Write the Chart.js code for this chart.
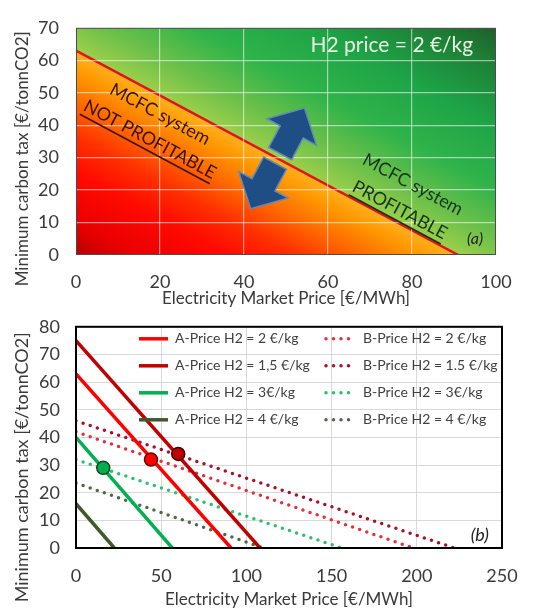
<!DOCTYPE html>
<html>
<head>
<meta charset="utf-8">
<script src="https://cdn.jsdelivr.net/npm/chart.js@4.4.0/dist/chart.umd.min.js"></script>
<style>
body { margin: 0; background: #fff; width: 535px; height: 612px; overflow: hidden; position: relative; }
#chartA { position: absolute; left: 0; top: 0; }
#chartB { position: absolute; left: 0; top: 300px; }
</style>
</head>
<body>
<canvas id="chartA" width="535" height="312"></canvas>
<canvas id="chartB" width="535" height="312"></canvas>
<script>
// panel (a) - break even line for H2 = 2 €/kg
const breakEvenX = [0, 91];
const breakEvenY = [63, 0];
const xTicksA = [0, 20, 40, 60, 80, 100];
const yTicksA = [0, 10, 20, 30, 40, 50, 60, 70];
const arrowAt = 48;

// panel (b) - A and B cases, straight lines from y-intercept to x-intercept
const labelsA = ['A-Price H2 = 2 €/kg', 'A-Price H2 = 1,5 €/kg', 'A-Price H2 = 3€/kg', 'A-Price H2 = 4 €/kg'];
const labelsB = ['B-Price H2 = 2 €/kg', 'B-Price H2 = 1.5 €/kg', 'B-Price H2 = 3€/kg', 'B-Price H2 = 4 €/kg'];
const taxAtZeroA = [63, 75, 40, 16];
const priceAtZeroA = [91, 108, 56.5, 22.5];
const taxAtZeroB = [42, 46, 32, 23.5];
const priceAtZeroB = [198, 222, 156, 110];
const crossX = [44, 60, 16];
const crossY = [32, 34, 29];
const xTicksB = [0, 50, 100, 150, 200, 250];
const yTicksB = [0, 10, 20, 30, 40, 50, 60, 70, 80];

const colorsA = ['#ff0000', '#c00000', '#00b050', '#3e5a2a'];
const colorsB = ['#e3303c', '#a8102a', '#2cbf72', '#4f6848'];
const crossFill = ['#ff0000', '#c00000', '#00b050'];
const crossEdge = ['#6e0000', '#4a0000', '#1d4223'];

Chart.defaults.font.family = 'Lato, "Open Sans", sans-serif';
Chart.defaults.color = '#3a3a3a';

function lineY(v) {
  return breakEvenY[0] + (breakEvenY[1] - breakEvenY[0]) * (v - breakEvenX[0]) / (breakEvenX[1] - breakEvenX[0]);
}

// gradient running perpendicular to the break even line, from line (0) to a corner (1)
function bandGradient(chart, corner, stops) {
  const { ctx, scales: { x, y } } = chart;
  const p0 = [x.getPixelForValue(breakEvenX[0]), y.getPixelForValue(breakEvenY[0])];
  const p1 = [x.getPixelForValue(breakEvenX[1]), y.getPixelForValue(breakEvenY[1])];
  const dx = p1[0] - p0[0], dy = p1[1] - p0[1];
  const t = ((corner[0] - p0[0]) * dx + (corner[1] - p0[1]) * dy) / (dx * dx + dy * dy);
  const g = ctx.createLinearGradient(p0[0] + t * dx, p0[1] + t * dy, corner[0], corner[1]);
  stops.forEach(s => g.addColorStop(s[0], s[1]));
  return g;
}
const redStops = [[0, '#ffb020'], [0.1, '#ff9800'], [0.25, '#ff6a00'], [0.42, '#ff3000'], [0.6, '#ff0a00'], [0.85, '#e80000'], [1, '#b50000']];
const greenStops = [[0, '#9ccf4a'], [0.15, '#6cc04a'], [0.35, '#2fb34a'], [0.6, '#1ea447'], [0.85, '#1d7f36'], [1, '#1f5f2a']];

const linePts = breakEvenX.map((v, i) => ({ x: v, y: breakEvenY[i] }));

function drawArrow(ctx, dir) {
  // dir -1 = up/right side, +1 = down/left side (local y axis)
  ctx.beginPath();
  ctx.moveTo(-13, dir * 5.5);
  ctx.lineTo(-13, dir * 30);
  ctx.lineTo(-28, dir * 30);
  ctx.lineTo(0, dir * 57);
  ctx.lineTo(28, dir * 30);
  ctx.lineTo(13, dir * 30);
  ctx.lineTo(13, dir * 5.5);
  ctx.closePath();
  ctx.fill();
  ctx.stroke();
}

function rotText(ctx, text, px, py, ang, underline) {
  ctx.save();
  ctx.translate(px, py);
  ctx.rotate(ang);
  ctx.fillText(text, 0, 0);
  if (underline) {
    const w = ctx.measureText(text).width;
    ctx.fillRect(-w / 2, 10, w, 1.6);
  }
  ctx.restore();
}

const decorA = {
  id: 'decorA',
  afterDraw(chart) {
    const { ctx, chartArea: ca, scales: { x, y } } = chart;
    ctx.save();
    ctx.strokeStyle = '#4d4d4d';
    ctx.lineWidth = 1;
    ctx.strokeRect(ca.left + 0.5, ca.top + 0.5, ca.width - 1, ca.height - 1);

    const p0 = [x.getPixelForValue(breakEvenX[0]), y.getPixelForValue(breakEvenY[0])];
    const p1 = [x.getPixelForValue(breakEvenX[1]), y.getPixelForValue(breakEvenY[1])];
    const ang = Math.atan2(p1[1] - p0[1], p1[0] - p0[0]);

    // double arrow across the line
    ctx.save();
    ctx.translate(x.getPixelForValue(arrowAt), y.getPixelForValue(lineY(arrowAt)));
    ctx.rotate(ang);
    ctx.fillStyle = '#1f4e85';
    ctx.strokeStyle = '#6088b8';
    ctx.lineWidth = 1.5;
    drawArrow(ctx, -1);
    drawArrow(ctx, 1);
    ctx.restore();

    ctx.textAlign = 'center';
    ctx.textBaseline = 'middle';
    ctx.font = '18px Lato';
    ctx.fillStyle = '#3b1208';
    rotText(ctx, 'MCFC system', x.getPixelForValue(20), y.getPixelForValue(43.4), ang, false);
    rotText(ctx, 'NOT PROFITABLE', x.getPixelForValue(17.6), y.getPixelForValue(35.6), ang, true);
    ctx.fillStyle = '#17351a';
    rotText(ctx, 'MCFC system', x.getPixelForValue(80.2), y.getPixelForValue(21.7), ang, false);
    rotText(ctx, 'PROFITABLE', x.getPixelForValue(77.1), y.getPixelForValue(13.9), ang, true);

    ctx.fillStyle = '#e8f4e0';
    ctx.font = '21px Lato';
    ctx.fillText('H2 price = 2 €/kg', x.getPixelForValue(75.2), y.getPixelForValue(64.5));
    ctx.fillStyle = '#222';
    ctx.font = 'italic 16px Lato';
    ctx.fillText('(a)', x.getPixelForValue(95), y.getPixelForValue(4.9));
    ctx.restore();
  }
};

new Chart(document.getElementById('chartA'), {
  type: 'line',
  data: {
    datasets: [
      { data: linePts, borderColor: '#e3111b', borderWidth: 2.5, pointRadius: 0, fill: false, order: -1 },
      {
        data: linePts, borderColor: 'rgba(0,0,0,0)', pointRadius: 0, fill: 'origin',
        backgroundColor: c => {
          const ch = c.chart;
          if (!ch.chartArea) return '#ff3000';
          return bandGradient(ch, [ch.chartArea.left, ch.chartArea.bottom], redStops);
        }
      },
      {
        data: linePts.concat([{ x: 100, y: 0 }]), borderColor: 'rgba(0,0,0,0)', pointRadius: 0, fill: 'end',
        backgroundColor: c => {
          const ch = c.chart;
          if (!ch.chartArea) return '#20a040';
          return bandGradient(ch, [ch.chartArea.right, ch.chartArea.top], greenStops);
        }
      }
    ]
  },
  options: {
    responsive: false,
    animation: false,
    layout: { padding: { top: 13, right: 39, left: 0, bottom: 0 } },
    plugins: { legend: { display: false }, tooltip: { enabled: false } },
    scales: {
      x: {
        type: 'linear', min: 0, max: 100,
        afterBuildTicks: s => { s.ticks = xTicksA.map(v => ({ value: v })); },
        afterFit: s => { s.height = 57; },
        grid: { color: 'rgba(255,255,255,0.55)', lineWidth: 1.2, z: 1, drawTicks: false },
        border: { display: false },
        ticks: { padding: 16, font: { size: 18 } },
        title: { display: true, text: 'Electricity Market Price [€/MWh]', font: { size: 17 }, padding: { top: 0, bottom: 3 } }
      },
      y: {
        min: 0, max: 70,
        afterBuildTicks: s => { s.ticks = yTicksA.map(v => ({ value: v })); },
        afterFit: s => { s.width = 76; },
        grid: { color: 'rgba(255,255,255,0.55)', lineWidth: 1.2, z: 1, drawTicks: false },
        border: { display: false },
        ticks: { padding: 17, font: { size: 18 } },
        title: { display: true, text: 'Minimum carbon tax [€/tonnCO2]        ', font: { size: 17 }, padding: { top: 12, bottom: 0 } }
      }
    }
  },
  plugins: [decorA]
});

// ---------- panel (b) ----------
const dsB = [];
dsB.push({
  data: crossX.map((v, i) => ({ x: v, y: crossY[i] })),
  showLine: false, pointRadius: 6.5, pointBorderWidth: 1.5,
  pointBackgroundColor: crossFill, pointBorderColor: crossEdge, order: -1
});
labelsA.forEach((lab, i) => {
  dsB.push({
    label: lab, col: 0, row: i,
    data: [{ x: 0, y: taxAtZeroA[i] }, { x: priceAtZeroA[i], y: 0 }],
    borderColor: colorsA[i], borderWidth: 3.5, pointRadius: 0, fill: false
  });
});
labelsB.forEach((lab, i) => {
  dsB.push({
    label: lab, col: 1, row: i,
    data: [{ x: 0, y: taxAtZeroB[i] }, { x: priceAtZeroB[i], y: 0 }],
    borderColor: colorsB[i], borderWidth: 3.5, borderDash: [0, 7.5], borderCapStyle: 'round',
    pointRadius: 0, fill: false
  });
});

const decorB = {
  id: 'decorB',
  afterDraw(chart) {
    const { ctx, chartArea: ca, scales: { x, y } } = chart;
    ctx.save();
    ctx.strokeStyle = '#000';
    ctx.lineWidth = 2;
    ctx.strokeRect(ca.left, ca.top, ca.width, ca.height);

    ctx.font = '14px Lato';
    ctx.textBaseline = 'middle';
    chart.data.datasets.forEach(ds => {
      if (ds.label === undefined) return;
      const x0 = ca.left + (ds.col ? 250 : 63);
      const yy = ca.top + 12 + ds.row * 27;
      ctx.strokeStyle = ds.borderColor;
      ctx.lineWidth = ds.borderWidth;
      ctx.lineCap = ds.borderCapStyle || 'butt';
      ctx.setLineDash(ds.borderDash || []);
      ctx.beginPath();
      ctx.moveTo(x0, yy);
      ctx.lineTo(x0 + 29, yy);
      ctx.stroke();
      ctx.fillStyle = '#404040';
      ctx.fillText(ds.label, x0 + (ds.col ? 37 : 36), yy);
    });
    ctx.setLineDash([]);
    ctx.fillStyle = '#222';
    ctx.font = 'italic 18px Lato';
    ctx.textAlign = 'center';
    ctx.fillText('(b)', x.getPixelForValue(237), y.getPixelForValue(4.5));
    ctx.restore();
  }
};

new Chart(document.getElementById('chartB'), {
  type: 'line',
  data: { datasets: dsB },
  options: {
    responsive: false,
    animation: false,
    layout: { padding: { top: 15, right: 33, left: 0, bottom: 0 } },
    plugins: { legend: { display: false }, tooltip: { enabled: false } },
    scales: {
      x: {
        type: 'linear', min: 0, max: 250,
        afterBuildTicks: s => { s.ticks = xTicksB.map(v => ({ value: v })); },
        afterFit: s => { s.height = 64; },
        grid: { color: '#d9d9d9', lineWidth: 1, drawTicks: false },
        border: { display: false },
        ticks: { padding: 17, font: { size: 18 } },
        title: { display: true, text: 'Electricity Market Price [€/MWh]', font: { size: 17 }, padding: { top: 0, bottom: 2 } }
      },
      y: {
        min: 0, max: 80,
        afterBuildTicks: s => { s.ticks = yTicksB.map(v => ({ value: v })); },
        afterFit: s => { s.width = 76; },
        grid: { color: '#d9d9d9', lineWidth: 1, drawTicks: false },
        border: { display: false },
        ticks: { padding: 16, font: { size: 18 } },
        title: { display: true, text: 'Minimum carbon tax [€/tonnCO2]             ', font: { size: 18 }, padding: { top: 11, bottom: 0 } }
      }
    }
  },
  plugins: [decorB]
});
</script>
</body>
</html>
